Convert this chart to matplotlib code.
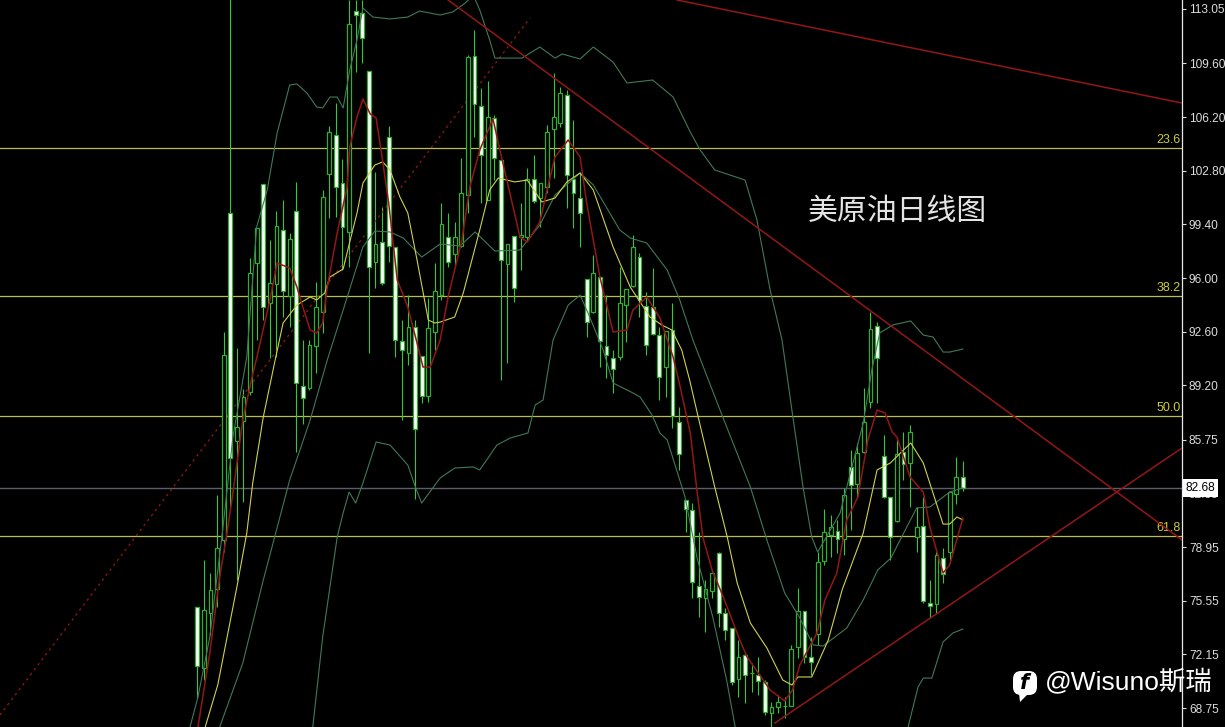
import matplotlib
matplotlib.use('Agg')
import matplotlib.pyplot as plt
from matplotlib.patches import FancyBboxPatch, Polygon
from matplotlib.transforms import IdentityTransform

# candles, one entry per daily bar
opens = [75.15,71.29,74.77,76.30,79.40,100.12,85.67,86.94,88.78,96.95,
	101.96,94.42,95.62,99.05,94.86,100.25,89.16,89.03,91.69,93.85,
	102.59,105.07,102.02,98.92,112.92,112.80,109.12,97.02,98.28,104.94,
	97.97,92.01,91.25,92.90,91.06,88.53,92.58,94.93,98.60,97.53,
	98.03,101.26,110.07,106.90,100.95,106.14,103.48,96.89,98.66,98.60,
	98.60,102.28,101.07,101.77,105.45,105.83,107.60,102.28,101.07,95.94,
	93.85,96.07,91.69,90.93,90.99,94.29,95.50,97.33,94.23,94.16,
	92.39,90.36,92.71,86.88,81.93,81.30,76.49,75.73,76.17,78.58,
	74.77,73.82,70.59,72.11,70.97,70.85,70.40,68.44,68.82,68.88,
	68.88,72.62,74.90,71.99,73.44,78.07,79.72,79.97,79.46,84.03,
	82.95,84.98,88.14,92.96,84.72,82.13,80.60,84.98,84.28,79.59,
	80.29,75.41,75.34,78.26,78.64,82.32,83.39]
highs = [75.15,78.13,77.31,82.25,92.58,113.94,91.57,88.97,97.27,99.17,
	101.96,98.41,100.25,100.95,98.85,102.09,92.07,92.07,95.75,101.58,
	105.64,107.09,103.54,113.62,113.62,113.62,109.12,102.72,100.50,105.64,
	97.97,93.34,94.93,93.34,91.06,94.74,96.95,100.76,100.12,99.55,
	103.61,110.13,111.72,108.04,108.49,106.33,103.48,98.16,98.66,100.76,
	102.97,103.80,102.02,105.70,108.99,108.11,107.92,106.02,102.66,95.94,
	97.46,96.07,94.93,91.44,96.70,95.31,98.73,97.59,95.12,96.64,
	92.90,92.64,94.42,87.83,81.93,81.74,79.91,76.87,77.37,78.64,
	75.09,73.82,73.06,72.30,71.61,71.99,70.53,69.13,69.58,69.45,
	72.75,76.36,74.90,73.25,78.64,81.36,80.98,80.67,82.70,85.10,
	85.55,89.03,93.85,93.21,86.05,82.13,85.93,86.24,86.69,81.49,
	82.13,76.87,78.64,78.89,82.44,84.66,84.41]
lows = [69.39,70.53,73.38,75.15,78.64,81.30,76.87,81.81,88.59,92.07,
	93.34,90.93,90.99,93.53,92.90,84.98,86.75,88.91,89.98,92.52,
	99.81,99.87,96.51,96.70,109.06,109.63,91.25,95.37,95.56,97.02,
	90.99,87.00,90.49,82.00,88.08,88.14,91.44,94.61,96.70,96.70,
	97.97,100.12,104.94,100.76,100.95,102.21,89.54,90.62,94.48,96.51,
	98.41,100.76,99.24,101.39,102.34,105.57,100.44,99.17,97.97,92.26,
	93.79,90.36,89.67,88.72,90.81,91.95,95.43,93.53,91.12,92.39,
	88.27,88.46,86.50,83.84,79.91,75.73,74.52,73.57,75.73,73.89,
	73.06,70.21,69.45,69.07,69.77,69.58,68.31,67.55,68.44,68.12,
	68.88,71.92,71.61,70.85,72.75,77.82,78.32,78.58,78.45,80.04,
	82.06,84.91,87.77,88.08,82.06,78.13,80.54,83.20,81.49,78.64,
	75.41,74.46,74.77,76.68,77.94,81.68,82.51]
closes = [71.42,74.97,76.23,78.89,91.12,84.60,86.56,88.46,96.32,99.17,
	94.16,95.69,99.30,95.18,98.47,89.35,88.40,91.76,94.16,101.14,
	105.25,101.77,99.24,112.10,112.67,111.21,96.70,98.16,95.69,98.03,
	92.07,91.44,92.90,86.43,88.53,92.83,95.18,99.43,97.02,98.60,
	101.39,110.01,107.03,103.80,106.21,103.61,97.14,98.16,95.37,98.73,
	102.28,100.88,102.02,105.25,106.21,107.73,102.53,101.39,100.12,93.21,
	96.32,92.01,91.12,90.24,94.42,95.31,97.97,94.61,91.76,92.45,
	89.73,92.64,87.26,84.85,81.36,76.74,75.79,76.30,77.31,74.77,
	73.70,70.40,71.99,70.85,70.97,70.46,68.50,68.82,69.13,68.88,
	72.49,74.90,71.99,71.67,78.00,79.91,80.22,79.46,82.25,82.89,
	84.91,86.88,92.77,90.93,82.13,79.59,84.85,84.22,86.24,80.22,
	75.54,75.22,78.45,77.25,82.44,83.39,82.70]

# moving averages and bands, read at their turning points
red_x = [0.1,1.9,3.4,4.5,5.4,6.9,8.3,9.0,11.0,12.1,14.0,15.1,16.0,17.1,18.1,19.0,19.7,21.2,22.7,23.1,24.2,25.1,26.2,27.1,28.0,29.0,30.3,31.9,33.3,34.2,35.3,36.8,38.0,40.1,41.3,42.8,44.8,46.2,48.9,50.0,51.9,53.0,54.2,56.2,58.0,59.0,61.0,63.0,65.1,66.0,68.1,70.1,72.1,73.1,74.7,75.7,76.6,78.0,79.7,82.2,83.3,86.8,89.0,90.2,91.3,93.9,95.1,96.9,98.4,100.1,101.6,103.0,104.2,105.3,106.0,108.0,110.0,111.0,113.0,114.0,116.0]
red_y = [67.55,72.24,77.06,79.84,82.38,87.00,89.73,90.93,94.61,96.95,96.64,95.43,94.16,92.71,92.52,93.15,95.43,98.85,101.77,104.30,106.21,107.35,106.40,106.14,103.67,100.76,95.88,94.16,91.88,90.36,90.36,92.07,94.80,98.41,101.77,104.11,106.08,103.48,98.60,98.28,99.55,101.58,103.67,104.75,103.67,100.76,96.07,92.58,92.71,93.97,94.80,93.47,90.99,89.22,86.18,82.57,79.59,77.50,75.79,73.06,71.99,69.89,69.20,69.89,71.48,73.51,75.60,77.31,80.67,82.13,85.74,87.64,87.45,86.24,85.93,83.39,82.44,80.22,77.31,77.82,80.79]

yellow_x = [1.2,3.1,6.0,7.5,8.4,10.0,11.8,13.0,15.1,17.1,18.1,19.3,20.1,22.1,23.1,24.2,25.1,26.9,28.1,29.2,30.7,31.9,33.3,35.0,36.0,36.8,39.0,40.3,42.8,44.3,45.6,48.1,50.0,52.2,54.2,56.0,58.0,60.0,63.0,65.6,68.6,70.4,71.9,73.4,74.6,75.9,78.4,80.3,81.8,83.8,86.3,88.7,90.1,91.0,93.1,95.6,97.7,100.9,103.0,105.0,108.1,110.0,113.0,114.0,115.1,116.0]
yellow_y = [67.55,70.21,76.42,79.84,83.01,87.19,90.81,93.15,94.29,94.80,94.61,95.05,96.07,96.57,98.28,100.12,102.02,103.16,103.36,102.85,101.14,100.12,97.14,93.34,93.15,93.21,93.53,95.05,99.05,101.58,102.34,102.09,102.21,100.82,101.07,102.09,102.66,101.58,97.97,95.43,93.53,93.02,92.71,91.44,89.54,87.19,82.76,79.59,76.68,74.14,72.56,70.53,70.21,70.72,70.72,73.06,76.23,79.84,83.84,84.28,85.55,84.28,80.41,80.41,80.86,80.67]

mid_x = [3.4,6.9,10.0,14.0,17.1,19.7,22.1,25.1,26.9,29.2,31.2,34.0,36.8,39.8,42.1,45.1,48.9,51.9,54.2,58.0,60.0,64.0,65.6,68.1,71.2,73.1,75.1,79.2,83.8,86.3,89.0,91.3,93.3,94.8,98.4,100.9,103.1,105.1,107.5,109.0,111.0,114.0,116.0]
mid_y = [67.55,71.61,76.86,83.20,87.00,90.81,93.97,97.97,98.98,98.92,98.54,97.33,98.16,98.03,98.92,97.71,97.78,99.36,101.26,102.66,101.90,99.05,98.54,98.22,96.51,94.61,92.07,87.64,82.76,79.40,76.04,74.46,72.75,72.68,73.82,75.60,77.50,78.26,80.22,81.43,81.49,82.44,82.70]

upper_x = [-1.1,0.1,1.9,3.9,5.4,6.9,7.5,9.0,10.6,12.1,14.0,15.1,16.6,18.1,19.0,20.1,21.2,22.1,23.1,24.2,25.1,26.6,29.2,31.9,33.7,36.8,38.7,40.6,41.8,42.8,44.3,45.1,49.2,51.9,54.2,55.3,58.0,60.0,63.0,65.1,69.0,72.1,74.7,76.2,78.4,83.0,84.8,86.8,88.6,90.2,91.8,93.1,94.0,97.4,100.9,102.2,103.4,105.4,108.1,110.0,111.5,113.0,114.0,116.0]
upper_y = [67.55,69.45,73.25,80.22,85.93,89.54,90.99,99.24,101.58,105.19,108.23,108.30,107.73,106.84,106.78,107.47,107.47,106.78,109.18,111.09,113.11,112.54,112.42,112.54,112.92,112.67,112.86,113.43,113.94,112.99,111.09,109.94,109.94,110.64,109.94,110.20,109.88,110.64,109.69,108.36,108.55,107.47,105.25,104.11,102.85,102.21,99.68,95.24,92.07,87.32,82.70,79.59,78.64,81.11,86.81,90.17,92.52,93.03,93.28,92.39,92.26,91.31,91.31,91.50]

lower_x = [17.5,19.0,21.2,22.1,23.0,24.0,25.1,27.1,29.2,31.9,33.1,34.0,36.8,39.0,41.8,42.8,45.4,47.4,50.1,51.2,52.4,53.9,56.2,58.0,59.2,61.5,63.0,66.0,67.1,68.9,70.1,71.2,73.9,75.7,78.1,80.2,81.5]
lower_y = [67.55,73.25,79.59,81.11,82.44,81.74,83.01,85.61,85.42,84.15,82.70,81.74,83.33,83.96,84.03,83.84,85.42,85.86,86.18,87.96,88.27,92.07,94.29,94.92,93.79,91.44,89.35,88.72,88.46,87.32,86.18,85.74,82.13,78.32,74.52,70.53,67.55]
lower2_x = [107.7,109.2,110.0,111.3,113.0,114.5,116.0]
lower2_y = [67.55,70.08,70.65,70.65,72.94,73.51,73.76]

# fibonacci levels and the trend lines
fib_levels = [104.24,94.86,87.26,79.65]
fib_labels = ['23.6','38.2','50.0','61.8']
last_price = 82.68
trend_lines = [([72.7,149.2],[113.62,107.09]),
	([38.0,149.2],[113.62,79.40]),
	([87.5,149.2],[67.80,85.23])]
dotted_x = [-29.9,50.4]
dotted_y = [68.31,112.48]
tick_values = [113.05,109.60,106.20,102.80,99.40,96.00,92.60,89.20,85.75,82.35,78.95,75.55,72.15,68.75]

GREEN = '#35c935'
EDGE = '#2fae2f'
DIM = '#3f7a58'
YEL = '#d0d04c'
RED = '#941717'

fig = plt.figure(figsize=(12.25,7.27), dpi=100, facecolor='black')
ax = fig.add_axes([0,0,1182/1225,1], facecolor='black')
ax.set_xlim(-29.89,149.2)
ax.set_ylim(67.55,113.62)

n = range(len(opens))
ax.vlines(list(n), lows, highs, color=GREEN, linewidth=0.8, zorder=2)
for i in n:
	top = max(opens[i],closes[i])
	bottom = min(opens[i],closes[i])
	face = 'white' if closes[i] < opens[i] else 'black'
	ax.bar(i, top-bottom, bottom=bottom, width=0.56, facecolor=face, edgecolor=EDGE, linewidth=0.9, zorder=3)

for level in fib_levels:
	ax.axhline(level, color='#bcbc48', linewidth=0.9, zorder=1)
ax.axhline(last_price, color='#5c5c6c', linewidth=1.0, zorder=1)
for level,label in zip(fib_labels and fib_levels,fib_labels):
	ax.text(149.05, level+0.1, label, color='#cccc3c', fontsize=9, family='Liberation Sans', ha='right', va='bottom')

ax.plot(upper_x, upper_y, color=DIM, linewidth=0.8, zorder=4)
ax.plot(mid_x, mid_y, color=DIM, linewidth=0.8, zorder=4)
ax.plot(lower_x, lower_y, color=DIM, linewidth=0.8, zorder=4)
ax.plot(lower2_x, lower2_y, color=DIM, linewidth=0.8, zorder=4)
ax.plot(yellow_x, yellow_y, color=YEL, linewidth=0.8, zorder=5)
ax.plot(red_x, red_y, color=RED, linewidth=1.1, zorder=6)

for xs,ys in trend_lines:
	ax.plot(xs, ys, color=RED, linewidth=1.1, zorder=6)
ax.plot(dotted_x, dotted_y, color=RED, linewidth=0.9, linestyle=(0,(2,3)), zorder=2)

ax.yaxis.tick_right()
ax.set_yticks(tick_values)
ax.set_yticklabels(['%.2f' % v for v in tick_values], family='Liberation Sans', fontsize=8.6, color='#dcdcdc')
ax.tick_params(axis='y', length=3, width=0.8, color='#dcdcdc', pad=2)
ax.set_xticks([])
for side in ['top','bottom','left']:
	ax.spines[side].set_visible(False)
ax.spines['right'].set_color('#e8e8e8')
ax.spines['right'].set_linewidth(0.9)

fig.text(1186/1225, 1-488/727, '%.2f' % last_price, color='black', fontsize=8.6, family='Liberation Sans', va='center', ha='left',
	bbox=dict(boxstyle='square,pad=0.22', facecolor='white', edgecolor='none'), zorder=10)

fig.text(897/1225, 1-212/727, '美原油日线图', color='#e4e4e4', fontsize=21.5, family='Noto Sans CJK SC', fontweight='light', ha='center', va='center', zorder=10)
fig.text(1045/1225, 1-682/727, '@Wisuno斯瑞', color='white', fontsize=19, family=['Liberation Sans','Noto Sans CJK SC'], ha='left', va='center', zorder=10)

# facebook badge of the watermark, in pixels
fig.add_artist(FancyBboxPatch((1015,34), 20, 20, boxstyle='round,pad=2,rounding_size=8', facecolor='white', edgecolor='none', transform=IdentityTransform(), zorder=9))
fig.add_artist(Polygon([(1019,34),(1020,25),(1028,33)], facecolor='white', edgecolor='none', transform=IdentityTransform(), zorder=9))
fig.text(1025/1225, 1-683/727, 'f', color='black', fontsize=15, family='DejaVu Sans', fontweight='bold', style='italic', ha='center', va='center', zorder=10)

fig.savefig('out.png', dpi=100, facecolor='black')
